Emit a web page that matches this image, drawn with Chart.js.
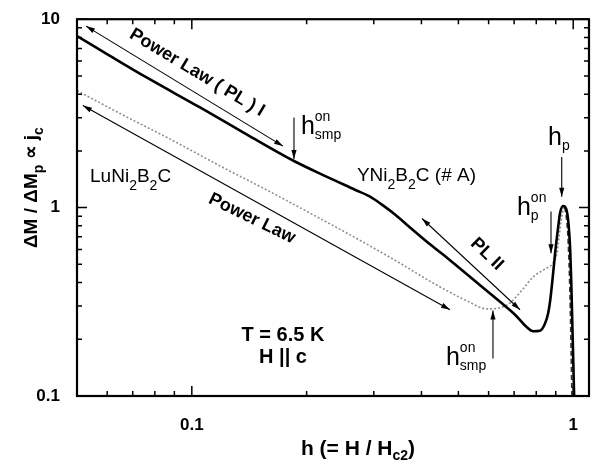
<!DOCTYPE html>
<html>
<head>
<meta charset="utf-8">
<script src="https://cdn.jsdelivr.net/npm/chart.js@4.4.1/dist/chart.umd.min.js"></script>
<style>
  html, body { margin: 0; padding: 0; background: #fff; }
  #plot { display: block; }
</style>
</head>
<body>
<canvas id="plot" width="598" height="466"></canvas>
<script>
// Reduced field h = H/Hc2 and normalised ΔM/ΔMp, YNi2B2C (#A)
const hY = [0.05, 0.061, 0.0763, 0.1051, 0.1421, 0.1853, 0.2262, 0.2679, 0.2932, 0.3151,
            0.3410, 0.3733, 0.4212, 0.4753, 0.5528, 0.6429, 0.7039, 0.757, 0.785, 0.818,
            0.843, 0.859, 0.870, 0.886, 0.897, 0.913, 0.924, 0.941, 0.958, 0.970, 0.982,
            0.988, 0.994, 1.000, 1.006];
const mY = [8.14, 6.39, 4.89, 3.40, 2.39, 1.768, 1.456, 1.244, 1.143, 1.037,
            0.919, 0.785, 0.639, 0.526, 0.408, 0.316, 0.270, 0.231, 0.2206, 0.222,
            0.242, 0.273, 0.320, 0.450, 0.580, 0.785, 0.94, 1.02, 0.988, 0.855, 0.594,
            0.413, 0.254, 0.157, 0.096];

// Same quantity for LuNi2B2C
const hLu = [0.05, 0.0648, 0.0877, 0.1186, 0.1604, 0.2169, 0.2761, 0.3515, 0.4290, 0.5266,
             0.5943, 0.6428, 0.6829, 0.7385, 0.7844, 0.8434, 0.8799, 0.9068, 0.9179, 0.9346,
             0.9460, 0.9574, 0.9692, 0.9809, 0.9868, 0.9928];
const mLu = [4.18, 3.16, 2.31, 1.664, 1.214, 0.875, 0.670, 0.507, 0.398, 0.320,
             0.290, 0.294, 0.312, 0.370, 0.428, 0.472, 0.501, 0.573, 0.695, 0.908,
             1.0, 0.919, 0.679, 0.336, 0.183, 0.094];

// Axis ticks
const xTickValues = [0.1, 1];
const xTickLabels = ['0.1', '1'];
const xMinorTicks = [0.06, 0.07, 0.08, 0.09, 0.2, 0.3, 0.4, 0.5, 0.6, 0.7, 0.8, 0.9];
const yTickValues = [0.1, 1, 10];
const yTickLabels = ['0.1', '1', '10'];
const yMinorTicks = [0.2, 0.3, 0.4, 0.5, 0.6, 0.7, 0.8, 0.9, 2, 3, 4, 5, 6, 7, 8, 9];

// Guide arrows in data units: [h1, m1, h2, m2, headAtStart, headAtEnd]
const guideArrows = [
  [0.0528, 9.19, 0.1734, 2.12, true, true],    // power law I
  [0.0518, 3.48, 0.4753, 0.287, true, true],   // power law (Lu)
  [0.4013, 0.875, 0.7253, 0.287, true, true],  // power law II
  [0.1853, 3.01, 0.1853, 1.81, false, true],   // h_smp onset (Y)
  [0.933, 1.855, 0.933, 1.143, false, true],   // h_p
  [0.8745, 0.953, 0.8745, 0.573, false, true], // h_p onset
  [0.616, 0.158, 0.616, 0.284, false, true]    // h_smp onset (Lu)
];

const FONT = '"Liberation Sans", Arial, Helvetica, sans-serif';

function head(ctx, from, to) {
  const ang = Math.atan2(to[1] - from[1], to[0] - from[0]);
  ctx.save();
  ctx.translate(to[0], to[1]);
  ctx.rotate(ang);
  ctx.beginPath();
  ctx.moveTo(0, 0);
  ctx.lineTo(-9, -2.6);
  ctx.lineTo(-9, 2.6);
  ctx.closePath();
  ctx.fill();
  ctx.restore();
}

// Draws a run of text pieces; kind 'n' normal, 'b' subscript, 'p' superscript.
// A piece flagged stack keeps the pen in place so the next piece sits above/below it.
function rich(ctx, parts, x, y, opt) {
  const size = opt.size, small = opt.small, weight = opt.weight || 'normal';
  const fontOf = k => `${weight} ${k === 'n' ? size : small}px ${FONT}`;
  const widthOf = list => {
    let w = 0, held = 0;
    for (const p of list) {
      ctx.font = fontOf(p.k);
      const pw = ctx.measureText(p.t).width;
      if (p.stack) { held = Math.max(held, pw); }
      else { w += Math.max(pw, held); held = 0; }
    }
    return w + held;
  };
  let cx = x;
  if (opt.align === 'center') cx = x - widthOf(parts) / 2;
  ctx.textAlign = 'left';
  ctx.textBaseline = 'alphabetic';
  let held = 0;
  for (const p of parts) {
    ctx.font = fontOf(p.k);
    const dy = p.k === 'b' ? opt.sub : p.k === 'p' ? -opt.sup : 0;
    ctx.fillText(p.t, cx, y + dy);
    const pw = ctx.measureText(p.t).width;
    if (p.stack) { held = Math.max(held, pw); }
    else { cx += Math.max(pw, held); held = 0; }
  }
}

const N = t => ({ t, k: 'n' });
const B = t => ({ t, k: 'b' });
const P = t => ({ t, k: 'p', stack: true });

const hSmp = [N('h'), P('on'), B('smp')];
const hP = [N('h'), B('p')];
const hPon = [N('h'), P('on'), B('p')];
const hStyle = { size: 25, small: 14, sub: 5, sup: 13 };
const chemStyle = { size: 19, small: 14, sub: 8, sup: 0 };

const decorations = {
  id: 'decorations',
  afterDatasetsDraw(chart) {
    const { ctx, chartArea: a, scales: { x, y } } = chart;
    const X = v => x.getPixelForValue(v);
    const Y = v => y.getPixelForValue(v);
    ctx.save();
    ctx.fillStyle = '#000';
    ctx.strokeStyle = '#000';

    // inward ticks on all four sides
    ctx.lineWidth = 1.5;
    ctx.beginPath();
    const xt = (v, len) => {
      const px = X(v);
      ctx.moveTo(px, a.bottom); ctx.lineTo(px, a.bottom - len);
      ctx.moveTo(px, a.top); ctx.lineTo(px, a.top + len);
    };
    const yt = (v, len) => {
      const py = Y(v);
      ctx.moveTo(a.left, py); ctx.lineTo(a.left + len, py);
      ctx.moveTo(a.right, py); ctx.lineTo(a.right - len, py);
    };
    xMinorTicks.forEach(v => xt(v, 5));
    xTickValues.forEach(v => xt(v, 10));
    yMinorTicks.forEach(v => yt(v, 5));
    yTickValues.forEach(v => yt(v, 10));
    ctx.stroke();

    // frame
    ctx.lineWidth = 2.2;
    ctx.strokeRect(a.left, a.top, a.right - a.left, a.bottom - a.top);

    // guide arrows
    ctx.lineWidth = 1.1;
    for (const g of guideArrows) {
      const p1 = [X(g[0]), Y(g[1])], p2 = [X(g[2]), Y(g[3])];
      ctx.beginPath(); ctx.moveTo(p1[0], p1[1]); ctx.lineTo(p2[0], p2[1]); ctx.stroke();
      if (g[4]) head(ctx, p2, p1);
      if (g[5]) head(ctx, p1, p2);
    }

    // slanted power-law captions
    const slanted = (text, h, m, deg) => {
      ctx.save();
      ctx.translate(X(h), Y(m));
      ctx.rotate(deg * Math.PI / 180);
      ctx.font = `bold 18px ${FONT}`;
      ctx.textAlign = 'center';
      ctx.textBaseline = 'middle';
      ctx.fillText(text, 0, 0);
      ctx.restore();
    };
    slanted('Power Law ( PL ) I', 0.1032, 5.20, 31);
    slanted('Power Law', 0.1438, 0.875, 26);
    slanted('PL II', 0.594, 0.566, 44);

    // sample labels
    rich(ctx, [N('YNi'), B('2'), N('B'), B('2'), N('C (# A)')], X(0.271), Y(1.387), chemStyle);
    rich(ctx, [N('LuNi'), B('2'), N('B'), B('2'), N('C')], X(0.0541), Y(1.37), chemStyle);

    // characteristic fields
    rich(ctx, hSmp, X(0.1932), Y(2.45), hStyle);
    rich(ctx, hSmp, X(0.4638), Y(0.1456), hStyle);
    rich(ctx, hP, X(0.8588), Y(2.146), hStyle);
    rich(ctx, hPon, X(0.712), Y(0.919), hStyle);

    // conditions
    ctx.font = `bold 20px ${FONT}`;
    ctx.textAlign = 'center';
    ctx.textBaseline = 'alphabetic';
    ctx.fillText('T = 6.5 K', X(0.1734), Y(0.1948));
    ctx.fillText('H || c', X(0.1734), Y(0.149));

    // axis titles
    const cx = (a.left + a.right) / 2;
    rich(ctx, [N('h (= H / H'), B('c2'), N(')')], cx + 25, 455,
         { size: 21, small: 14, sub: 5, sup: 0, weight: 'bold', align: 'center' });
    ctx.save();
    ctx.translate(37, (a.top + a.bottom) / 2 - 20);
    ctx.rotate(-Math.PI / 2);
    rich(ctx, [N('ΔM / ΔM'), B('p'), N(' ∝ j'), B('c')], 0, 0,
         { size: 19, small: 14, sub: 6, sup: 0, weight: 'bold', align: 'center' });
    ctx.restore();

    ctx.restore();
  }
};

const tickFont = { family: FONT, size: 17, weight: 'bold' };

new Chart(document.getElementById('plot'), {
  type: 'line',
  data: {
    datasets: [
      {
        label: 'YNi2B2C (# A)',
        data: hY.map((h, i) => ({ x: h, y: mY[i] })),
        borderColor: '#000',
        borderWidth: 2.6,
        pointRadius: 0,
        cubicInterpolationMode: 'monotone',
        fill: false
      },
      {
        label: 'LuNi2B2C',
        data: hLu.map((h, i) => ({ x: h, y: mLu[i] })),
        borderColor: '#8f8f8f',
        borderWidth: 1.6,
        borderDash: [2, 2],
        pointRadius: 0,
        cubicInterpolationMode: 'monotone',
        fill: false,
        segment: {
          borderDash: c => c.p0.parsed.x >= 0.946 ? [5, 3] : undefined,
          borderColor: c => c.p0.parsed.x >= 0.946 ? '#333' : undefined
        }
      }
    ]
  },
  options: {
    responsive: false,
    animation: false,
    devicePixelRatio: 1,
    layout: { padding: { top: 16, right: 9, left: 0, bottom: 0 } },
    plugins: { legend: { display: false }, tooltip: { enabled: false } },
    scales: {
      x: {
        type: 'logarithmic',
        min: 0.05,
        max: 1.1,
        grid: { display: false },
        border: { display: false },
        afterBuildTicks: s => { s.ticks = xTickValues.map(v => ({ value: v })); },
        afterFit: s => { s.height = 70; },
        ticks: {
          autoSkip: false, maxRotation: 0, padding: 11, color: '#000', font: tickFont,
          callback: (v, i) => xTickLabels[i]
        }
      },
      y: {
        type: 'logarithmic',
        min: 0.1,
        max: 10,
        grid: { display: false },
        border: { display: false },
        afterBuildTicks: s => { s.ticks = yTickValues.map(v => ({ value: v })); },
        afterFit: s => { s.width = 77; },
        ticks: {
          autoSkip: false, padding: 9, color: '#000', font: tickFont,
          callback: (v, i) => yTickLabels[i]
        }
      }
    }
  },
  plugins: [decorations]
});
</script>
</body>
</html>
